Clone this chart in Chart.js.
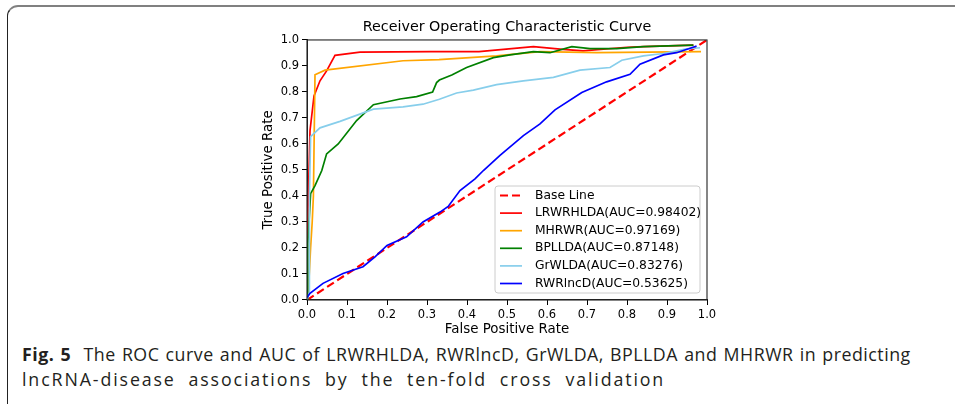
<!DOCTYPE html>
<html>
<head>
<meta charset="utf-8">
<script src="https://cdn.jsdelivr.net/npm/chart.js@4.4.0/dist/chart.umd.min.js"></script>
<style>
  html, body { margin: 0; padding: 0; background: #fff; }
  body { width: 955px; height: 404px; position: relative; overflow: hidden; }
  .frame {
    position: absolute; left: 7px; top: 5px; width: 1000px; height: 420px;
    border-top: 2px solid #808080; border-left: 1.5px solid #222;
    border-radius: 11px 0 0 11px; box-sizing: border-box;
  }
  #chartBox { position: absolute; left: 0; top: 0; width: 955px; height: 340px; }
  .caption {
    position: absolute; left: 22px; top: 342px;
    font-family: "Open Sans", sans-serif; font-size: 17.8px; line-height: 25px; color: #231f20;
  }
  .caption span { display: block; width: max-content; white-space: nowrap; }
  .caption b { font-weight: 700; }
</style>
</head>
<body>
<div class="frame"></div>
<div id="chartBox"><canvas id="roc"></canvas></div>
<div class="caption">
  <span data-w="888"><b>Fig. 5</b>&nbsp; The ROC curve and AUC of LRWRHLDA, RWRlncD, GrWLDA, BPLLDA and MHRWR in predicting</span>
  <span data-w="643">lncRNA-disease associations by the ten-fold cross validation</span>
</div>
<script>
// Axis ticks
const tickValues = [0, 0.1, 0.2, 0.3, 0.4, 0.5, 0.6, 0.7, 0.8, 0.9, 1.0];

// Base line (random guess)
const baseFpr = [0, 1];
const baseTpr = [0, 1];

// LRWRHLDA
const lrwrFpr = [0, 0.001, 0.004, 0.0075, 0.0175, 0.0325, 0.049, 0.07, 0.1325, 0.31, 0.43, 0.566, 0.64, 0.69, 0.80, 0.841, 0.966];
const lrwrTpr = [0, 0.25, 0.434, 0.651, 0.785, 0.843, 0.881, 0.941, 0.953, 0.955, 0.955, 0.974, 0.964, 0.958, 0.972, 0.974, 0.98];

// MHRWR
const mhrwrFpr = [0, 0.005, 0.009, 0.013, 0.016, 0.02, 0.045, 0.24, 0.33, 0.474, 0.5825, 0.724, 0.985];
const mhrwrTpr = [0, 0.08, 0.2, 0.3, 0.4, 0.866, 0.884, 0.92, 0.924, 0.939, 0.955, 0.951, 0.955];

// BPLLDA
const bpllFpr = [0, 0.002, 0.009, 0.02, 0.037, 0.049, 0.078, 0.124, 0.166, 0.2325, 0.274, 0.314, 0.324, 0.331, 0.362, 0.399, 0.466, 0.5075, 0.566, 0.6075, 0.662, 0.7075, 0.774, 0.841, 0.966];
const bpllTpr = [0, 0.218, 0.409, 0.44, 0.498, 0.562, 0.60, 0.69, 0.751, 0.773, 0.782, 0.80, 0.836, 0.846, 0.865, 0.894, 0.932, 0.9425, 0.955, 0.951, 0.974, 0.967, 0.967, 0.974, 0.98];

// GrWLDA
const grwFpr = [0, 0.006, 0.006, 0.009, 0.0325, 0.0825, 0.166, 0.24, 0.29, 0.331, 0.374, 0.416, 0.474, 0.541, 0.616, 0.6825, 0.7575, 0.787, 0.841, 0.891, 0.949, 0.9825];
const grwTpr = [0, 0.03, 0.4, 0.628, 0.662, 0.687, 0.734, 0.743, 0.753, 0.772, 0.796, 0.807, 0.828, 0.843, 0.856, 0.884, 0.894, 0.922, 0.939, 0.948, 0.966, 0.97];

// RWRlncD
const rwrFpr = [0, 0.0075, 0.04, 0.09, 0.14, 0.17, 0.2, 0.249, 0.29, 0.3325, 0.353, 0.3825, 0.42, 0.441, 0.4825, 0.541, 0.5825, 0.62, 0.687, 0.749, 0.8075, 0.8325, 0.891, 0.924, 0.954, 0.974];
const rwrTpr = [0.01, 0.026, 0.064, 0.102, 0.128, 0.166, 0.21, 0.243, 0.30, 0.338, 0.36, 0.421, 0.466, 0.498, 0.556, 0.632, 0.677, 0.731, 0.798, 0.839, 0.868, 0.907, 0.9425, 0.951, 0.966, 0.977];

const seriesNames = ['Base Line', 'LRWRHLDA(AUC=0.98402)', 'MHRWR(AUC=0.97169)', 'BPLLDA(AUC=0.87148)', 'GrWLDA(AUC=0.83276)', 'RWRlncD(AUC=0.53625)'];
const seriesColors = ['#ff0000', '#ff0000', '#ffa500', '#008000', '#87ceeb', '#0000ff'];

// stretch caption lines to the widths they take in the figure:
// most of the gap goes between letters, the rest between words
document.querySelectorAll('.caption span').forEach((el) => {
  const target = +el.dataset.w;
  const natural = el.getBoundingClientRect().width;
  const text = el.textContent;
  const spaces = (text.match(/ /g) || []).length;
  const extra = target - natural;
  el.style.letterSpacing = (extra * 0.75 / text.length).toFixed(2) + 'px';
  el.style.wordSpacing = (extra * 0.25 / Math.max(spaces, 1)).toFixed(2) + 'px';
});

const toPoints = (xs, ys) => xs.map((x, i) => ({ x: x, y: ys[i] }));

const curves = [
  [baseFpr, baseTpr],
  [lrwrFpr, lrwrTpr],
  [mhrwrFpr, mhrwrTpr],
  [bpllFpr, bpllTpr],
  [grwFpr, grwTpr],
  [rwrFpr, rwrTpr],
];

const datasets = curves.map((c, i) => ({
  label: seriesNames[i],
  data: toPoints(c[0], c[1]),
  borderColor: seriesColors[i],
  backgroundColor: seriesColors[i],
  borderWidth: i === 0 ? 2.2 : 1.7,
  borderDash: i === 0 ? [8, 4] : [],
  pointRadius: 0,
  tension: 0,
  fill: false,
  order: curves.length - i, // later series drawn on top
}));

const FONT = '"DejaVu Sans", sans-serif';

// Spines on all four sides, plus the boxed legend in the lower right
const framePlugin = {
  id: 'frame',
  afterDraw(chart) {
    const { ctx, chartArea: a } = chart;
    ctx.save();
    ctx.strokeStyle = '#222';
    ctx.lineWidth = 1.1;
    ctx.strokeRect(a.left, a.top, a.right - a.left, a.bottom - a.top);

    // legend
    const w = 205, h = 107;
    const lx = a.right - 7 - w, ly = a.bottom - 7 - h;
    ctx.beginPath();
    ctx.roundRect(lx, ly, w, h, 3);
    ctx.fillStyle = 'rgba(255,255,255,0.8)';
    ctx.fill();
    ctx.strokeStyle = '#cccccc';
    ctx.lineWidth = 1;
    ctx.stroke();

    ctx.font = '12.3px ' + FONT;
    ctx.textBaseline = 'middle';
    ctx.textAlign = 'left';
    seriesNames.forEach((name, i) => {
      const y = ly + 9.5 + i * 17.6;
      ctx.beginPath();
      ctx.setLineDash(datasets[i].borderDash);
      ctx.strokeStyle = seriesColors[i];
      ctx.lineWidth = datasets[i].borderWidth;
      ctx.moveTo(lx + 5, y);
      ctx.lineTo(lx + 27, y);
      ctx.stroke();
      ctx.setLineDash([]);
      ctx.fillStyle = '#000';
      ctx.fillText(name, lx + 40, y);
    });
    ctx.restore();
  },
};

function axisOpts(titleText, fit) {
  return {
    type: 'linear',
    min: 0,
    max: 1,
    afterBuildTicks: (scale) => { scale.ticks = tickValues.map((v) => ({ value: v })); },
    afterFit: fit,
    ticks: {
      color: '#000',
      font: { family: FONT, size: 11.5 },
      padding: 3,
      callback: (v) => v.toFixed(1),
    },
    grid: { display: true, drawOnChartArea: false, drawTicks: true, tickLength: 5, color: '#000', lineWidth: 1 },
    border: { display: true, color: '#222', width: 1 },
    title: { display: true, text: titleText, color: '#000', font: { family: FONT, size: 13.4 }, padding: { top: 3, bottom: 2 } },
  };
}

new Chart(document.getElementById('roc'), {
  type: 'line',
  data: { datasets: datasets },
  plugins: [framePlugin],
  options: {
    responsive: true,
    maintainAspectRatio: false,
    animation: false,
    layout: { padding: { left: 257, right: 248, top: 0, bottom: 0 } },
    plugins: {
      legend: { display: false },
      tooltip: { enabled: false },
      title: {
        display: true,
        fullSize: false,
        text: 'Receiver Operating Characteristic Curve',
        color: '#000',
        font: { family: FONT, size: 14.3, weight: 'normal' },
        padding: { top: 19, bottom: 3.8 },
      },
    },
    scales: {
      x: axisOpts('False Positive Rate', (s) => { s.height = 40; }),
      y: axisOpts('True Positive Rate', (s) => { s.width = 50; }),
    },
  },
});
</script>
</body>
</html>
